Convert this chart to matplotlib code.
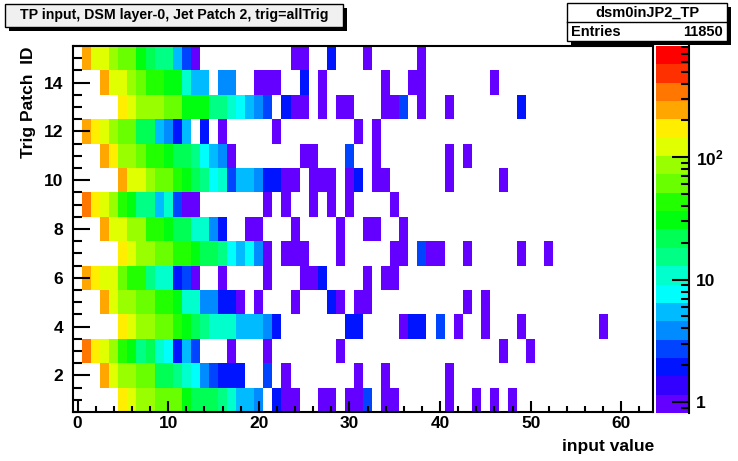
import colorsys
import numpy as np
import matplotlib
matplotlib.use("Agg")
import matplotlib.pyplot as plt
from matplotlib import font_manager
from matplotlib.colors import ListedColormap, BoundaryNorm
from matplotlib.patches import Rectangle
from matplotlib.ticker import FixedLocator, MultipleLocator, NullFormatter

# ---------------- data (counts per input value, per trigger patch) ----------------
patch_15 = {1: 240, 2: 120, 3: 120, 4: 85, 5: 60, 6: 60, 7: 30, 8: 22, 9: 15, 10: 15, 11: 6, 12: 3,
            13: 1, 24: 1, 25: 1, 28: 2, 32: 1, 38: 1}
patch_14 = {3: 240, 4: 120, 5: 120, 6: 85, 7: 60, 8: 43, 9: 43, 10: 30, 11: 30, 12: 11, 13: 6, 14: 6,
            16: 4, 17: 4, 20: 1, 21: 1, 22: 1, 25: 2, 27: 1, 34: 1, 37: 1, 38: 1, 46: 1}
patch_13 = {5: 170, 6: 120, 7: 85, 8: 85, 9: 85, 10: 60, 11: 60, 12: 30, 13: 30, 14: 30, 15: 15, 16: 15,
            17: 11, 18: 8, 19: 6, 20: 4, 21: 3, 23: 2, 24: 1, 25: 1, 27: 1, 29: 1, 30: 1, 34: 1, 35: 1,
            36: 3, 38: 1, 41: 1, 49: 2}
patch_12 = {1: 240, 2: 170, 3: 120, 4: 85, 5: 60, 6: 60, 7: 22, 8: 22, 9: 6, 10: 4, 11: 2, 12: 6, 14: 2,
            16: 1, 22: 1, 31: 1, 33: 1}
patch_11 = {3: 240, 4: 170, 5: 85, 6: 85, 7: 60, 8: 43, 9: 43, 10: 30, 11: 22, 12: 22, 13: 15, 14: 8,
            15: 6, 16: 4, 17: 1, 25: 1, 26: 1, 30: 3, 33: 1, 41: 1, 43: 1}
patch_10 = {5: 240, 6: 120, 7: 120, 8: 85, 9: 60, 10: 60, 11: 43, 12: 30, 13: 22, 14: 15, 15: 8, 16: 11,
            17: 3, 18: 6, 19: 6, 20: 4, 21: 2, 22: 2, 23: 1, 24: 1, 26: 1, 27: 1, 28: 1, 30: 1, 31: 2,
            33: 1, 34: 1, 41: 1, 47: 1}
patch_09 = {1: 340, 2: 170, 3: 120, 4: 85, 5: 43, 6: 30, 7: 15, 8: 15, 9: 6, 10: 11, 11: 3, 12: 1, 13: 1,
            21: 1, 23: 1, 26: 1, 28: 1, 30: 1, 35: 1}
patch_08 = {3: 240, 4: 120, 5: 120, 6: 85, 7: 85, 8: 43, 9: 43, 10: 30, 11: 22, 12: 22, 13: 11, 14: 11,
            15: 4, 16: 2, 19: 1, 20: 1, 24: 1, 29: 1, 32: 1, 33: 1, 36: 1}
patch_07 = {5: 170, 6: 120, 7: 85, 8: 85, 9: 60, 10: 60, 11: 43, 12: 43, 13: 30, 14: 22, 15: 22, 16: 15,
            17: 8, 18: 6, 19: 8, 20: 4, 21: 1, 23: 1, 24: 1, 25: 1, 29: 1, 35: 1, 36: 1, 38: 3, 39: 1,
            40: 1, 43: 1, 49: 1, 52: 1}
patch_06 = {1: 240, 2: 170, 3: 120, 4: 120, 5: 60, 6: 43, 7: 43, 8: 15, 9: 11, 10: 11, 11: 2, 12: 3,
            13: 1, 16: 1, 21: 1, 25: 1, 26: 1, 27: 2, 32: 1, 34: 1, 35: 1}
patch_05 = {3: 240, 4: 120, 5: 85, 6: 85, 7: 60, 8: 60, 9: 43, 10: 43, 11: 30, 12: 11, 13: 11, 14: 4,
            15: 4, 16: 2, 17: 2, 18: 1, 20: 1, 24: 1, 28: 2, 29: 1, 31: 1, 32: 1, 43: 1, 45: 1}
patch_04 = {5: 170, 6: 120, 7: 85, 8: 85, 9: 60, 10: 60, 11: 43, 12: 30, 13: 22, 14: 15, 15: 11, 16: 11,
            17: 11, 18: 6, 19: 6, 20: 6, 21: 4, 22: 2, 30: 2, 31: 2, 36: 1, 37: 2, 38: 2, 40: 3, 42: 1,
            45: 1, 49: 1, 58: 1}
patch_03 = {1: 340, 2: 170, 3: 120, 4: 85, 5: 43, 6: 30, 7: 15, 8: 22, 9: 11, 10: 8, 11: 2, 12: 6,
            13: 3, 17: 1, 21: 1, 29: 1, 47: 1, 50: 1}
patch_02 = {3: 240, 4: 120, 5: 85, 6: 85, 7: 60, 8: 60, 9: 22, 10: 22, 11: 15, 12: 11, 13: 8, 14: 4,
            15: 3, 16: 2, 17: 2, 18: 2, 21: 3, 23: 1, 31: 1, 34: 1, 41: 1}
patch_01 = {5: 170, 6: 120, 7: 85, 8: 85, 9: 60, 10: 60, 11: 60, 12: 30, 13: 22, 14: 22, 15: 22, 16: 15,
            17: 11, 18: 6, 19: 6, 20: 4, 22: 2, 23: 1, 24: 1, 27: 1, 28: 1, 30: 1, 31: 1, 32: 3, 34: 1,
            35: 1, 41: 1, 44: 1, 46: 1, 48: 1}

patch_ids = list(range(1, 16))
patch_rows = [patch_01, patch_02, patch_03, patch_04, patch_05, patch_06, patch_07, patch_08,
              patch_09, patch_10, patch_11, patch_12, patch_13, patch_14, patch_15]
n_bins = 64
x_ticks = [0, 10, 20, 30, 40, 50, 60]
y_ticks = [2, 4, 6, 8, 10, 12, 14]
z_ticks = [1, 10, 100]
z_ticklabels = ["1", "10", r"$\mathbf{10^{2}}$"]
title = "TP input, DSM layer-0, Jet Patch 2, trig=allTrig"
hist_name = "dsm0inJP2_TP"
entries = 11850

# ---------------- style ----------------
plt.rcParams["font.family"] = ["Liberation Sans", "DejaVu Sans"]
plt.rcParams["font.weight"] = "bold"
plt.rcParams["mathtext.fontset"] = "custom"
plt.rcParams["mathtext.rm"] = "Liberation Sans:bold"
plt.rcParams["mathtext.bf"] = "Liberation Sans:bold"

installed = {f.name for f in font_manager.fontManager.ttflist}
if "Liberation Sans Narrow" in installed:
    title_family, title_size = ["Liberation Sans Narrow", "Liberation Sans"], 12.6
else:
    title_family, title_size = ["Liberation Sans", "DejaVu Sans"], 10.2

W, H = 738, 461
fig = plt.figure(figsize=(W / 100, H / 100), dpi=100)


def fx(px):
    return px / W


def fy(py):
    return 1 - py / H


# ROOT "pretty" palette with 20 contour levels
n_cont = 20
cols = []
for k in range(n_cont):
    idx = int((k + 0.99) * 50 / n_cont)
    hue = 280 - (idx + 1) * 5.6 if idx < 49 else 0.0
    cols.append(colorsys.hls_to_rgb(hue / 360.0, 0.5, 1.0))
cmap = ListedColormap(cols)
lz0, lz1 = -0.09, 2.91
bounds = 10 ** np.linspace(lz0, lz1, n_cont + 1)
norm = BoundaryNorm(bounds, n_cont)

Z = np.zeros((len(patch_ids), n_bins))
for i, row in enumerate(patch_rows):
    for b, c in row.items():
        Z[i, b] = c
Zm = np.ma.masked_where(Z <= 0, Z)

x_edges = np.arange(n_bins + 1) - 0.5
y_edges = np.arange(len(patch_ids) + 1) + 0.5

lw = 1.5
ax = fig.add_axes([fx(73), fy(412), (653 - 73) / W, (412 - 46) / H])
ax.pcolormesh(x_edges, y_edges, Zm, cmap=cmap, norm=norm)
ax.set_xlim(-0.5, 63.5)
ax.set_ylim(0.5, 15.5)
for s in ax.spines.values():
    s.set_linewidth(lw)
ax.xaxis.set_major_locator(FixedLocator(x_ticks))
ax.xaxis.set_minor_locator(MultipleLocator(2))
ax.yaxis.set_major_locator(FixedLocator(y_ticks))
ax.yaxis.set_minor_locator(MultipleLocator(0.5))
ax.tick_params(axis="x", which="major", direction="in", length=8, width=lw, labelsize=12.5, pad=3,
               top=False)
ax.tick_params(axis="x", which="minor", direction="in", length=4, width=lw, top=False)
ax.tick_params(axis="y", which="major", direction="in", length=12.5, width=lw, labelsize=12.5, pad=7,
               right=False)
ax.tick_params(axis="y", which="minor", direction="in", length=6.2, width=lw, right=False)
for t in ax.get_xticklabels() + ax.get_yticklabels():
    t.set_fontweight("bold")

fig.text(fx(654), fy(446), "input value", ha="right", va="center", fontsize=12.5, fontweight="bold")
fig.text(fx(28), fy(47), "Trig Patch  ID", ha="center", va="top", rotation=90, fontsize=12.5,
         fontweight="bold")

# colour scale
cax = fig.add_axes([fx(656), fy(413), (689 - 656) / W, (413 - 46) / H])
cax.set_yscale("log")
cax.pcolormesh([0, 1], bounds, (np.arange(n_cont) + 0.5).reshape(-1, 1), cmap=cmap,
               norm=BoundaryNorm(np.arange(n_cont + 1), n_cont))
cax.set_xlim(0, 1)
cax.set_ylim(bounds[0], bounds[-1])
cax.set_xticks([])
for side in ["left", "top", "bottom"]:
    cax.spines[side].set_visible(False)
cax.spines["right"].set_linewidth(lw)
cax.yaxis.set_ticks_position("right")
cax.yaxis.set_major_locator(FixedLocator(z_ticks))
cax.set_yticklabels(z_ticklabels)
minor_vals = [0.9] + [m * d for d in (1, 10, 100) for m in range(2, 10) if m * d < bounds[-1]]
cax.yaxis.set_minor_locator(FixedLocator(minor_vals))
cax.yaxis.set_minor_formatter(NullFormatter())
cax.tick_params(axis="y", which="major", direction="in", length=12.5, width=lw, labelsize=12.5, pad=5)
cax.tick_params(axis="y", which="minor", direction="in", length=6, width=lw)
for t in cax.get_yticklabels():
    t.set_fontweight("bold")


# title box with shadow
def shadow_box(x0, y0, x1, y1, face, off=4):
    fig.patches.append(Rectangle((fx(x0 + off), fy(y1 + off)), (x1 - x0) / W, (y1 - y0) / H,
                                 transform=fig.transFigure, facecolor="black", edgecolor="black",
                                 linewidth=0, zorder=5))
    fig.patches.append(Rectangle((fx(x0), fy(y1)), (x1 - x0) / W, (y1 - y0) / H,
                                 transform=fig.transFigure, facecolor=face, edgecolor="black",
                                 linewidth=1.0, zorder=6))


shadow_box(5, 4, 343, 27, "#f0f0f0")
fig.text(fx(174), fy(15.5), title, ha="center", va="center", fontsize=title_size, fontweight="bold",
         family=title_family, zorder=7)

shadow_box(567, 3, 727, 41, "white")
fig.lines.append(plt.Line2D([fx(567), fx(727)], [fy(22), fy(22)], transform=fig.transFigure,
                            color="black", linewidth=1.0, zorder=7))
fig.text(fx(647), fy(12.5), hist_name, ha="center", va="center", fontsize=10.5, fontweight="bold",
         zorder=7)
fig.text(fx(571), fy(31.5), "Entries", ha="left", va="center", fontsize=10.5, fontweight="bold", zorder=7)
fig.text(fx(723), fy(31.5), str(entries), ha="right", va="center", fontsize=10.5, fontweight="bold",
         zorder=7)

fig.savefig("out.png", dpi=100)
